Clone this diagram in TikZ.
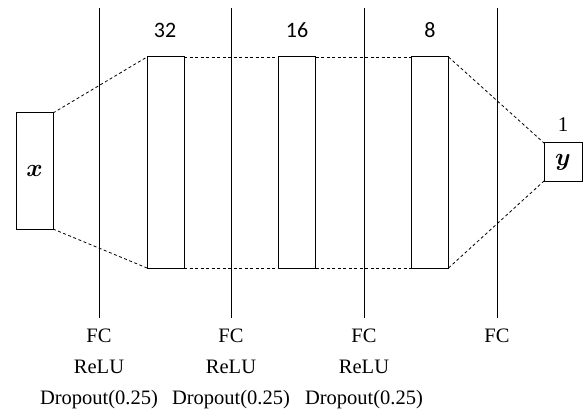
\documentclass[tikz,border=0pt]{standalone}
\usepackage{amsmath}
\usepackage{fontspec}
\setmainfont{Liberation Serif}
\newfontfamily\sizefont{Carlito}
\usetikzlibrary{positioning}

\begin{document}
\begin{tikzpicture}[x=1pt,y=-1pt,
  every node/.style={inner sep=0pt,outer sep=0pt},
  layer/.style={draw,line width=1pt,minimum width=37pt,anchor=center},
  link/.style={dashed,dash pattern=on 3pt off 2.5pt,line width=0.8pt},
  sep/.style={line width=0.9pt},
  dims/.style={font=\sizefont\fontsize{22}{22}\selectfont},
  ops/.style={anchor=north,align=center,font=\fontsize{20.5}{31}\selectfont}]

  \useasboundingbox (0,0) rectangle (585,414);

  % input, hidden layers and output
  \node[layer,minimum height=116pt] (in) at (34.5,171) {\fontsize{34}{34}\selectfont$\boldsymbol{x}$};
  \node[layer,minimum height=211pt] (h1) at (165.5,162.5) {};
  \node[layer,minimum height=211pt] (h2) at (297,162.5) {};
  \node[layer,minimum height=211pt] (h3) at (430,162.5) {};
  \node[layer,minimum width=38pt,minimum height=38pt] (out) at (563,162) {\fontsize{34}{34}\selectfont$\boldsymbol{y}$};

  % sizes
  \node[dims] (d1) at (165,30) {32};
  \node[dims] (d2) at (297,30) {16};
  \node[dims] (d3) at (430,30) {8};
  \node[font=\fontsize{21}{21}\selectfont] (d4) at (563,125) {1};

  % dashed fans between the layers
  \draw[link] (in.north east) -- (h1.north west);
  \draw[link] (in.south east) -- (h1.south west);
  \draw[link] (h1.north east) -- (h2.north west);
  \draw[link] (h1.south east) -- (h2.south west);
  \draw[link] (h2.north east) -- (h3.north west);
  \draw[link] (h2.south east) -- (h3.south west);
  \draw[link] (h3.north east) -- (out.north west);
  \draw[link] (h3.south east) -- (out.south west);

  % separators with the operations under them
  \foreach \i/\x/\txt in {1/99/{FC\\ReLU\\Dropout(0.25)},2/231/{FC\\ReLU\\Dropout(0.25)},
                          3/364/{FC\\ReLU\\Dropout(0.25)},4/497/{FC}} {
    \coordinate (t\i) at (\x,8);
    \coordinate (b\i) at (\x,318);
    \draw[sep] (t\i) -- (b\i);
    \node[ops] (op\i) at (\x,329) {\txt};
  }

\end{tikzpicture}
\end{document}
